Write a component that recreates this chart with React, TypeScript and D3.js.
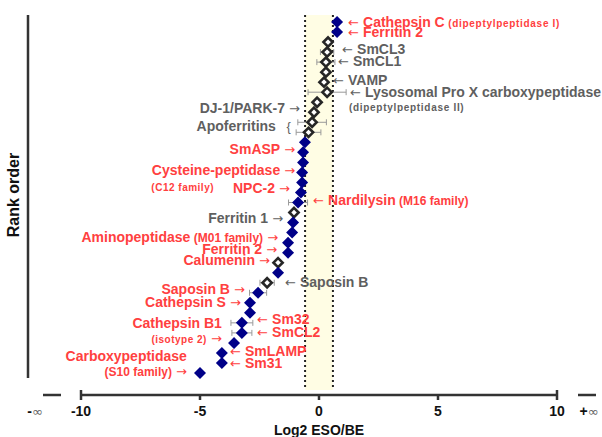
import React from 'react';
import * as d3 from 'd3';

// log2 ESO/BE ratio per protein, in rank order (top to bottom)
const values = [
  0.76, 0.76, 0.38, 0.34, 0.29, 0.29, 0.21, 0.34, -0.08, -0.21, -0.29, -0.44,
  -0.59, -0.67, -0.67, -0.71, -0.71, -0.76, -0.88, -1.05, -1.09, -1.13, -1.3, -1.3,
  -1.72, -1.72, -2.18, -2.56, -2.9, -2.9, -3.24, -3.24, -3.57, -4.08, -4.08, -5.0,
];
// f = significant (filled), o = not significant (open)
const kinds = 'ffoooooooooofffffffoffffofoffffffffff'.split('');
// half width of the error bar, 0 = none
const errors = [
  0, 0, 0, 0.28, 0.38, 0, 0, 0.8, 0, 0, 0.6, 0.52,
  0, 0, 0.1, 0, 0, 0, 0.4, 0, 0, 0.1, 0, 0,
  0, 0, 0.3, 0.36, 0, 0, 0.46, 0.42, 0, 0, 0, 0,
];
const xTicks = [-10, -5, 0, 5, 10];
const band = [-0.585, 0.585];

const RED = '#ff4040';
const GRAY = '#5f5f5f';

type Label = { rank: number; at: number; side: 'L' | 'R'; name: string; sub?: string; subSize?: number; color: string; arrow?: string };

// right side: arrow starts at `at`; left side: arrow (or text) ends at `at`
const labels: Label[] = [
  { rank: 1, at: 1.22, side: 'R', name: 'Cathepsin C', sub: '(dipeptylpeptidase I)', subSize: 10, color: RED },
  { rank: 2, at: 1.22, side: 'R', name: 'Ferritin 2', color: RED },
  { rank: 3.7, at: 0.97, side: 'R', name: 'SmCL3', color: GRAY },
  { rank: 4.9, at: 0.8, side: 'R', name: 'SmCL1', color: GRAY },
  { rank: 6.8, at: 0.59, side: 'R', name: 'VAMP', color: GRAY },
  { rank: 8, at: 1.3, side: 'R', name: 'Lysosomal Pro X carboxypeptidase', color: GRAY },
  { rank: 18.75, at: -0.25, side: 'R', name: 'Nardilysin', sub: '(M16 family)', subSize: 12, color: RED },
  { rank: 26.9, at: -1.43, side: 'R', name: 'Saposin B', color: GRAY },
  { rank: 30.6, at: -2.6, side: 'R', name: 'Sm32', color: RED },
  { rank: 31.9, at: -2.6, side: 'R', name: 'SmCL2', color: RED },
  { rank: 33.8, at: -3.74, side: 'R', name: 'SmLAMP', color: RED },
  { rank: 35, at: -3.74, side: 'R', name: 'Sm31', color: RED },
  { rank: 9.6, at: -0.8, side: 'L', name: 'DJ-1/PARK-7', color: GRAY },
  { rank: 11.4, at: -1.18, side: 'L', name: 'Apoferritins', color: GRAY, arrow: '{' },
  { rank: 13.7, at: -1.0, side: 'L', name: 'SmASP', color: RED },
  { rank: 15.8, at: -1.0, side: 'L', name: 'Cysteine-peptidase', color: RED },
  { rank: 17.6, at: -1.22, side: 'L', name: 'NPC-2', color: RED },
  { rank: 20.5, at: -1.51, side: 'L', name: 'Ferritin 1', color: GRAY },
  { rank: 22.4, at: -1.72, side: 'L', name: 'Aminopeptidase', sub: '(M01 family)', subSize: 12, color: RED },
  { rank: 23.6, at: -1.76, side: 'L', name: 'Ferritin 2', color: RED },
  { rank: 24.7, at: -2.06, side: 'L', name: 'Calumenin', color: RED },
  { rank: 27.6, at: -3.11, side: 'L', name: 'Saposin B', color: RED },
  { rank: 28.9, at: -3.28, side: 'L', name: 'Cathepsin S', color: RED },
  { rank: 31, at: -4.08, side: 'L', name: 'Cathepsin B1', color: RED, arrow: '' },
  { rank: 34.3, at: -5.55, side: 'L', name: 'Carboxypeptidase', color: RED, arrow: '' },
];
// small notes under some labels
const notes = [
  { rank: 9.5, at: 1.26, side: 'R', text: '(dipeptylpeptidase II)', color: GRAY, size: 10, arrow: false },
  { rank: 17.5, at: -4.41, side: 'L', text: '(C12 family)', color: RED, size: 10, arrow: false },
  { rank: 32.6, at: -4.08, side: 'L', text: '(isotype 2)', color: RED, size: 10, arrow: true },
  { rank: 35.9, at: -5.55, side: 'L', text: '(S10 family)', color: RED, size: 12, arrow: true },
];

const FONT = '"Liberation Sans", Arial, sans-serif';
const ARROW_FONT = '"DejaVu Sans", sans-serif';

export default function App() {
  const W = 602, H = 437;
  const x = d3.scaleLinear().domain([-10, 10]).range([81, 557]);
  const y = d3.scaleLinear().domain([1, values.length]).range([22, 373]);
  const axisY = 395;
  const diamond = (r: number) => `M0,${-r}L${r},0L0,${r}L${-r},0Z`;

  return (
    <svg width={W} height={H} style={{ position: 'absolute', left: 0, top: 0, background: '#fff' }} fontFamily={FONT}>
      {/* not-changed band */}
      <rect x={x(band[0])} y={15} width={x(band[1]) - x(band[0])} height={375} fill="#fffde4" />
      {band.map((b, i) => (
        <line key={i} x1={x(b)} x2={x(b)} y1={15} y2={390} stroke="#222" strokeWidth={2} strokeDasharray="2,3" />
      ))}

      {/* y axis */}
      <line x1={28} x2={28} y1={15} y2={378} stroke="#333" strokeWidth={2.5} />
      <text transform="translate(19,195) rotate(-90)" textAnchor="middle" fontSize={16} fontWeight="bold" fill="#111">Rank order</text>

      {/* x axis */}
      <line x1={x(-10)} x2={x(10)} y1={axisY} y2={axisY} stroke="#333" strokeWidth={2.5} />
      {xTicks.map((t) => {
        const end = t === -10 || t === 10;
        return (
          <g key={t}>
            <line x1={x(t)} x2={x(t)} y1={end ? axisY - 5 : axisY} y2={axisY + 5} stroke="#333" strokeWidth={2.5} />
            <text x={x(t)} y={416} textAnchor="middle" fontSize={14} fontWeight="bold" fill="#111">{t}</text>
          </g>
        );
      })}
      <line x1={43} x2={61} y1={axisY} y2={axisY} stroke="#333" strokeWidth={2.5} />
      <line x1={578} x2={596} y1={axisY} y2={axisY} stroke="#333" strokeWidth={2.5} />
      <text x={35} y={416} textAnchor="middle" fontSize={14} fill="#111"><tspan fontWeight="bold">-</tspan><tspan fontFamily={ARROW_FONT} fontSize={13} fill="#666">∞</tspan></text>
      <text x={589} y={416} textAnchor="middle" fontSize={14} fill="#111"><tspan fontWeight="bold">+</tspan><tspan fontFamily={ARROW_FONT} fontSize={13} fill="#666">∞</tspan></text>
      <text x={x(0)} y={435} textAnchor="middle" fontSize={14} fontWeight="bold" fill="#111">Log2 ESO/BE</text>

      {/* error bars */}
      {values.map((v, i) => errors[i] > 0 && (
        <g key={'e' + i} stroke="#999" strokeWidth={1}>
          <line x1={x(v - errors[i])} x2={x(v + errors[i])} y1={y(i + 1)} y2={y(i + 1)} />
          <line x1={x(v - errors[i])} x2={x(v - errors[i])} y1={y(i + 1) - 3} y2={y(i + 1) + 3} />
          <line x1={x(v + errors[i])} x2={x(v + errors[i])} y1={y(i + 1) - 3} y2={y(i + 1) + 3} />
        </g>
      ))}

      {/* points */}
      {values.map((v, i) => (
        kinds[i] === 'f'
          ? <path key={i} d={diamond(6)} transform={`translate(${x(v)},${y(i + 1)})`} fill="#000088" />
          : <path key={i} d={diamond(4.6)} transform={`translate(${x(v)},${y(i + 1)})`} fill="#fff" stroke="#262626" strokeWidth={2.6} />
      ))}

      {/* labels */}
      {labels.map((l, i) => {
        const yy = y(l.rank) + 5;
        const ax = x(l.at);
        if (l.side === 'R') {
          return (
            <g key={'l' + i} fill={l.color}>
              <text x={ax} y={yy} fontFamily={ARROW_FONT} fontSize={13}>←</text>
              <text x={ax + 15} y={yy} fontSize={14} fontWeight="bold">
                {l.name}
                {l.sub && <tspan fontSize={l.subSize} letterSpacing={l.subSize === 10 ? 0.7 : 0}>{' ' + l.sub}</tspan>}
              </text>
            </g>
          );
        }
        const arrow = l.arrow === undefined ? '→' : l.arrow;
        const textEnd = arrow ? ax - 15 : ax;
        return (
          <g key={'l' + i} fill={l.color}>
            {arrow && <text x={ax} y={yy} textAnchor="end" fontFamily={arrow === '→' ? ARROW_FONT : FONT} fontSize={13}>{arrow}</text>}
            <text x={textEnd} y={yy} textAnchor="end" fontSize={14} fontWeight="bold">
              {l.name}
              {l.sub && <tspan fontSize={l.subSize}>{' ' + l.sub}</tspan>}
            </text>
          </g>
        );
      })}
      {notes.map((n, i) => {
        const yy = y(n.rank) + 4;
        const ax = x(n.at);
        if (n.side === 'R') {
          return <text key={'n' + i} x={ax} y={yy} fontSize={n.size} fontWeight="bold" letterSpacing={0.7} fill={n.color}>{n.text}</text>;
        }
        return (
          <g key={'n' + i} fill={n.color}>
            {n.arrow && <text x={ax} y={yy} textAnchor="end" fontFamily={ARROW_FONT} fontSize={13}>→</text>}
            <text x={n.arrow ? ax - 15 : ax} y={yy} textAnchor="end" fontSize={n.size} fontWeight="bold" letterSpacing={n.size === 10 ? 0.5 : 0}>{n.text}</text>
          </g>
        );
      })}
    </svg>
  );
}
